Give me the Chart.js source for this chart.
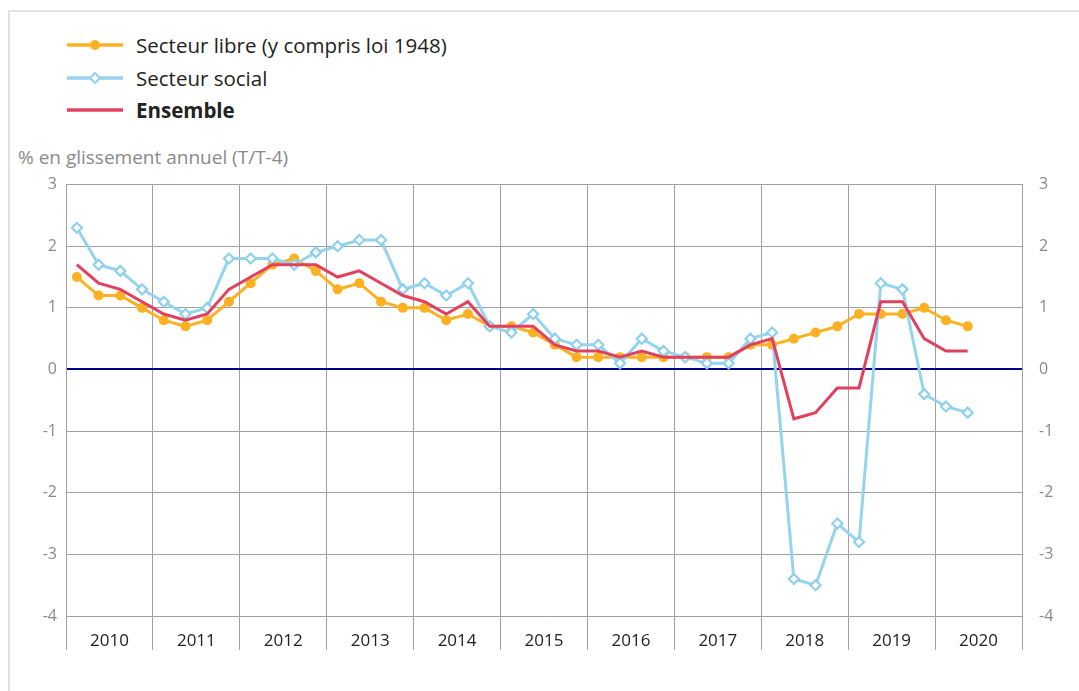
<!DOCTYPE html>
<html lang="fr">
<head>
<meta charset="utf-8">
<script src="https://cdn.jsdelivr.net/npm/chart.js@4.4.1/dist/chart.umd.min.js"></script>
<style>
  body { margin: 0; background: #fff; font-family: "Open Sans", sans-serif; }
  #frame { position: absolute; left: 8px; top: 10px; width: 1200px; height: 800px;
           border-left: 2px solid #e2e2e2; border-top: 2px solid #e2e2e2; }
  #legend { position: absolute; left: 67px; top: 29px; }
  .row { height: 32.5px; display: flex; align-items: center; font-size: 20.5px; color: #222; }
  .row svg { margin-right: 13px; }
  #ytitle { position: absolute; left: 18px; top: 144px; font-size: 19px; color: #8a8a8a; }
  #wrap { position: absolute; left: 0; top: 166px; }
</style>
</head>
<body>
<div id="frame"></div>
<div id="legend">
  <div class="row"><svg width="56" height="14"><line x1="0" y1="7" x2="56" y2="7" stroke="#FDB022" stroke-width="3.5"/><circle cx="28" cy="7" r="5" fill="#FDB022"/></svg>Secteur libre (y compris loi 1948)</div>
  <div class="row"><svg width="56" height="14"><line x1="0" y1="7" x2="56" y2="7" stroke="#95D3EE" stroke-width="3.5"/><rect x="24.5" y="3.5" width="7" height="7" transform="rotate(45 28 7)" fill="#fff" stroke="#95D3EE" stroke-width="2.2"/></svg>Secteur social</div>
  <div class="row"><svg width="56" height="14"><line x1="0" y1="7" x2="56" y2="7" stroke="#E2405F" stroke-width="3.5"/></svg><b>Ensemble</b></div>
</div>
<div id="ytitle">% en glissement annuel (T/T-4)</div>
<div id="wrap"><canvas id="chart" width="1079" height="525"></canvas></div>
<script>
// années et trimestres
const years = ['2010', '2011', '2012', '2013', '2014', '2015', '2016', '2017', '2018', '2019', '2020'];
const quarters = ['T1', 'T2', 'T3', 'T4'];

// séries (T1 2010 -> T2 2020)
const secteurLibre = [1.5, 1.2, 1.2, 1.0, 0.8, 0.7, 0.8, 1.1, 1.4, 1.7, 1.8, 1.6,
  1.3, 1.4, 1.1, 1.0, 1.0, 0.8, 0.9, 0.7, 0.7, 0.6, 0.4, 0.2,
  0.2, 0.2, 0.2, 0.2, 0.2, 0.2, 0.2, 0.4, 0.4, 0.5, 0.6, 0.7,
  0.9, 0.9, 0.9, 1.0, 0.8, 0.7];
const secteurSocial = [2.3, 1.7, 1.6, 1.3, 1.1, 0.9, 1.0, 1.8, 1.8, 1.8, 1.7, 1.9,
  2.0, 2.1, 2.1, 1.3, 1.4, 1.2, 1.4, 0.7, 0.6, 0.9, 0.5, 0.4,
  0.4, 0.1, 0.5, 0.3, 0.2, 0.1, 0.1, 0.5, 0.6, -3.4, -3.5, -2.5,
  -2.8, 1.4, 1.3, -0.4, -0.6, -0.7];
const ensemble = [1.7, 1.4, 1.3, 1.1, 0.9, 0.8, 0.9, 1.3, 1.5, 1.7, 1.7, 1.7,
  1.5, 1.6, 1.4, 1.2, 1.1, 0.9, 1.1, 0.7, 0.7, 0.7, 0.4, 0.3,
  0.3, 0.2, 0.3, 0.2, 0.2, 0.2, 0.2, 0.4, 0.5, -0.8, -0.7, -0.3,
  -0.3, 1.1, 1.1, 0.5, 0.3, 0.3];

const yTicks = [-4, -3, -2, -1, 0, 1, 2, 3];

const labels = years.flatMap(y => quarters.map(q => y + ' ' + q));
const toPoints = arr => arr.map((v, i) => ({ x: i + 0.5, y: v, label: labels[i] }));

const gridGray = '#a0a0a0';

const yScale = (pos, w) => ({
  position: pos,
  min: yTicks[0],
  max: yTicks[yTicks.length - 1],
  afterBuildTicks: s => { s.ticks = yTicks.map(v => ({ value: v })); },
  ticks: { color: '#8a8a8a', font: { family: 'Open Sans', size: 16 }, padding: 9 },
  border: { display: true, color: gridGray, width: 1 },
  afterFit: s => { s.width = w; }
});

new Chart(document.getElementById('chart'), {
  type: 'line',
  data: {
    datasets: [{
      label: 'Ensemble',
      data: toPoints(ensemble),
      borderColor: '#E2405F',
      borderWidth: 3,
      pointRadius: 0,
      order: 0
    }, {
      label: 'Secteur social',
      data: toPoints(secteurSocial),
      borderColor: '#95D3EE',
      borderWidth: 3,
      pointStyle: 'rectRot',
      pointRadius: 5,
      pointBorderWidth: 2.2,
      pointBackgroundColor: '#fff',
      pointBorderColor: '#8FD0EC',
      order: 1
    }, {
      label: 'Secteur libre (y compris loi 1948)',
      data: toPoints(secteurLibre),
      borderColor: '#FDB022',
      borderWidth: 3,
      pointRadius: 5,
      pointBorderWidth: 0,
      pointBackgroundColor: '#FDB022',
      order: 2
    }]
  },
  options: {
    responsive: false,
    animation: false,
    devicePixelRatio: 1,
    layout: { padding: { top: 9, left: 0, right: 0, bottom: 0 } },
    plugins: { legend: { display: false }, tooltip: { enabled: false } },
    scales: {
      x: {
        type: 'linear',
        min: 0,
        max: years.length * 4,
        ticks: {
          stepSize: 2,
          autoSkip: false,
          maxRotation: 0,
          color: '#222',
          font: { family: 'Open Sans', size: 17 },
          padding: -19,
          callback: v => (v % 4 === 2 ? years[(v - 2) / 4] : '')
        },
        grid: {
          color: c => (c.tick && c.tick.value % 4 === 0 ? gridGray : 'rgba(0,0,0,0)'),
          tickLength: 34,
          lineWidth: 1
        },
        border: { display: true, color: gridGray },
        afterFit: s => { s.height = 75; }
      },
      y: Object.assign(yScale('left', 66), {
        grid: {
          color: c => (c.tick && c.tick.value === 0 ? '#00008B' : gridGray),
          lineWidth: c => (c.tick && c.tick.value === 0 ? 2 : 1),
          drawTicks: false
        }
      }),
      y2: Object.assign(yScale('right', 57), { grid: { display: false } })
    }
  }
});
</script>
</body>
</html>
